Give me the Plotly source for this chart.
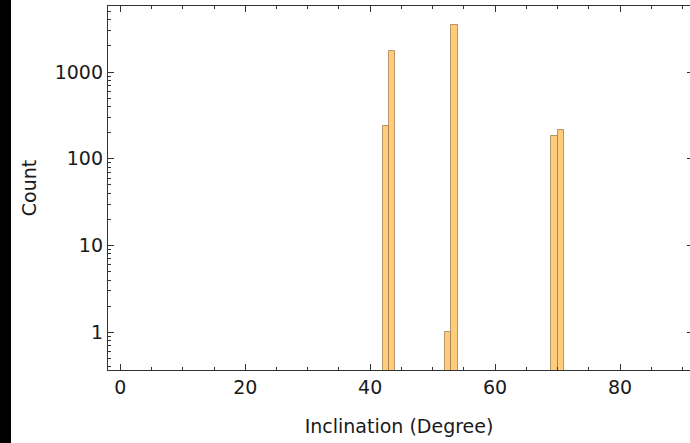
import plotly.graph_objects as go

# Histogram data (bin width = 1 degree)
bin_left = [42, 43, 52, 53, 69, 70]
counts = [241, 1771, 1, 3467, 183, 217]
bin_width = 1

x_ticks = [0, 20, 40, 60, 80]
y_ticks = [1, 10, 100, 1000]
y_tick_labels = ["1", "10", "100", "1000"]

x_title = "Inclination (Degree)"
y_title = "Count"

W, H = 690, 443
ml, mr, mt, mb = 108, 0, 6, 73
y_range = [-0.435, 3.762]

fig = go.Figure()
fig.add_trace(go.Bar(
    x=[b + bin_width / 2 for b in bin_left],
    y=counts,
    width=[bin_width] * len(bin_left),
    marker=dict(color="#FFCC7A", line=dict(color="rgba(150,115,70,0.7)", width=1)),
    showlegend=False,
))

font = dict(family="DejaVu Sans", size=19, color="#1a1a1a")
axc = "#333333"

fig.update_layout(
    width=W, height=H,
    margin=dict(l=ml, r=mr, t=mt, b=mb, pad=0),
    paper_bgcolor="white", plot_bgcolor="white",
    font=font,
    bargap=0,
    xaxis=dict(
        range=[-1.97, 91.2],
        tickmode="array", tickvals=x_ticks,
        ticks="inside", ticklen=6, tickwidth=1, tickcolor=axc,
        minor=dict(dtick=5, ticks="inside", ticklen=3, tickwidth=1, tickcolor=axc),
        showline=True, linecolor=axc, linewidth=1.3, mirror="ticks",
        showgrid=False, zeroline=False,
        title=dict(text=x_title, font=font, standoff=22),
        tickfont=font,
    ),
    yaxis=dict(
        type="log",
        range=y_range,
        tickmode="array", tickvals=y_ticks, ticktext=y_tick_labels,
        ticks="inside", ticklen=6, tickwidth=1, tickcolor=axc,
        minor=dict(tickmode="array",
                   tickvals=[m * 10 ** e for e in range(-1, 4) for m in range(2, 10)],
                   ticks="inside", ticklen=3, tickwidth=1, tickcolor=axc),
        showline=True, linecolor=axc, linewidth=1.3, mirror=False,
        showgrid=False, zeroline=False,
        title=dict(text=y_title, font=font, standoff=13),
        tickfont=font,
    ),
    yaxis2=dict(
        type="log", overlaying="y", side="right",
        range=y_range,
        tickmode="array", tickvals=y_ticks,
        ticks="inside", ticklen=3, tickwidth=1, tickcolor=axc,
        showticklabels=False,
        showline=False,
        showgrid=False, zeroline=False,
    ),
)

# dummy trace to activate right axis
fig.add_trace(go.Scatter(x=[None], y=[None], yaxis="y2", showlegend=False, hoverinfo="skip"))

# black strip at the left edge of the image
pw = W - ml - mr
ph = H - mt - mb
fig.add_shape(type="rect", xref="paper", yref="paper",
              x0=-ml / pw, x1=(11 - ml) / pw,
              y0=-mb / ph - 0.01, y1=1 + mt / ph + 0.01,
              fillcolor="black", line=dict(width=0), layer="above")

fig.write_html("out.html")
